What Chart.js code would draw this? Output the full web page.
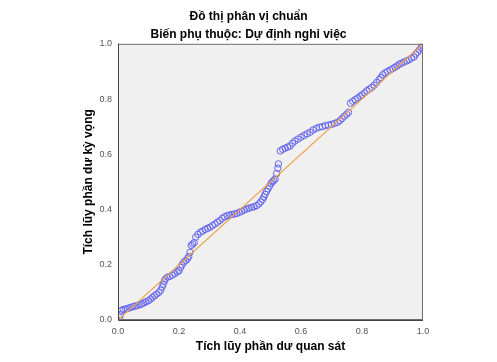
<!DOCTYPE html>
<html>
<head>
<meta charset="utf-8">
<script src="https://cdn.jsdelivr.net/npm/chart.js@4"></script>
<style>
  body { margin: 0; background: #ffffff; }
</style>
</head>
<body>
<canvas id="ppChart" width="497" height="362"></canvas>
<script>
// P-P plot: observed vs expected cumulative probability of residuals
var observedCum = [
    0.005, 0.008, 0.012, 0.018, 0.025, 0.032, 0.040, 0.048, 0.055, 0.062,
    0.070, 0.078, 0.085, 0.092, 0.100, 0.107, 0.113, 0.120, 0.127, 0.134,
    0.140, 0.145, 0.148, 0.152, 0.155, 0.162, 0.170, 0.178, 0.186, 0.194,
    0.200, 0.205, 0.210, 0.216, 0.222, 0.228, 0.232, 0.236, 0.240, 0.245,
    0.250, 0.255, 0.262, 0.270, 0.278, 0.286, 0.294, 0.302, 0.310, 0.318,
    0.326, 0.334, 0.342, 0.350, 0.358, 0.366, 0.374, 0.382, 0.390, 0.398,
    0.406, 0.414, 0.422, 0.430, 0.438, 0.446, 0.454, 0.462, 0.468, 0.474,
    0.478, 0.482, 0.487, 0.492, 0.497, 0.502, 0.506, 0.510, 0.515, 0.520,
    0.524, 0.526, 0.532, 0.540, 0.548, 0.556, 0.564, 0.572, 0.580, 0.590,
    0.600, 0.610, 0.620, 0.630, 0.640, 0.650, 0.660, 0.670, 0.680, 0.690,
    0.700, 0.710, 0.720, 0.728, 0.735, 0.742, 0.750, 0.756, 0.762, 0.770,
    0.778, 0.786, 0.794, 0.800, 0.808, 0.816, 0.824, 0.832, 0.840, 0.848,
    0.856, 0.862, 0.868, 0.876, 0.884, 0.892, 0.900, 0.908, 0.915, 0.922,
    0.930, 0.938, 0.946, 0.954, 0.962, 0.970, 0.976, 0.982, 0.988, 0.994,
    0.998
];
var expectedCum = [
    0.010, 0.020, 0.035, 0.038, 0.040, 0.042, 0.045, 0.048, 0.050, 0.052,
    0.055, 0.058, 0.062, 0.066, 0.070, 0.076, 0.082, 0.088, 0.094, 0.100,
    0.108, 0.120, 0.130, 0.140, 0.148, 0.155, 0.158, 0.162, 0.168, 0.174,
    0.178, 0.190, 0.200, 0.210, 0.215, 0.222, 0.230, 0.245, 0.270, 0.275,
    0.280, 0.300, 0.310, 0.318, 0.322, 0.328, 0.332, 0.336, 0.342, 0.348,
    0.354, 0.360, 0.368, 0.374, 0.378, 0.380, 0.382, 0.384, 0.386, 0.390,
    0.394, 0.398, 0.402, 0.405, 0.408, 0.410, 0.414, 0.420, 0.428, 0.436,
    0.445, 0.455, 0.465, 0.475, 0.485, 0.495, 0.500, 0.505, 0.510, 0.530,
    0.550, 0.565, 0.612, 0.618, 0.622, 0.626, 0.630, 0.640, 0.648, 0.655,
    0.662, 0.668, 0.674, 0.680, 0.688, 0.694, 0.698, 0.700, 0.704, 0.706,
    0.708, 0.712, 0.716, 0.722, 0.730, 0.738, 0.745, 0.752, 0.785, 0.792,
    0.798, 0.804, 0.810, 0.815, 0.822, 0.830, 0.836, 0.842, 0.850, 0.860,
    0.870, 0.878, 0.888, 0.895, 0.900, 0.905, 0.910, 0.915, 0.920, 0.926,
    0.930, 0.934, 0.938, 0.942, 0.948, 0.952, 0.962, 0.970, 0.978, 0.986,
    0.992
];
var refLineX = [0, 1];
var refLineY = [0, 1];
var tickLabels = ['0.0', '0.2', '0.4', '0.6', '0.8', '1.0'];

var points = observedCum.map(function (x, i) { return { x: x, y: expectedCum[i] }; });
var refLine = refLineX.map(function (x, i) { return { x: x, y: refLineY[i] }; });

// gray plot background + frame
var plotFrame = {
    id: 'plotFrame',
    beforeDatasetsDraw: function (chart) {
        var a = chart.chartArea, c = chart.ctx;
        c.save();
        c.fillStyle = '#f0f0f0';
        c.fillRect(a.left, a.top, a.right - a.left, a.bottom - a.top);
        c.restore();
    },
    afterDraw: function (chart) {
        var a = chart.chartArea, c = chart.ctx;
        c.save();
        c.strokeStyle = '#6e6e6e';
        c.lineWidth = 1;
        c.strokeRect(a.left + 0.5, a.top + 0.5, a.right - a.left - 1, a.bottom - a.top - 1);
        c.strokeStyle = '#444444';
        c.beginPath();
        c.moveTo(a.left + 0.5, a.top);
        c.lineTo(a.left + 0.5, a.bottom + 0.5);
        c.lineTo(a.right, a.bottom + 0.5);
        c.stroke();
        c.restore();
    }
};

var ctx = document.getElementById('ppChart').getContext('2d');
var ppChart = new Chart(ctx, {
    type: 'scatter',
    data: {
        datasets: [{
            type: 'line',
            data: refLine,
            borderColor: '#f0a04a',  // orange diagonal
            borderWidth: 1.2,
            pointRadius: 0,
            fill: false
        }, {
            data: points,
            pointStyle: 'circle',
            pointRadius: 3.2,
            borderColor: '#6464ee',  // hollow blue circles
            backgroundColor: 'rgba(0,0,0,0)',
            borderWidth: 1
        }]
    },
    options: {
        responsive: false,
        animation: false,
        layout: { padding: { left: 74, right: 74, top: 0, bottom: 0 } },
        font: { family: '"Liberation Sans", Arial, sans-serif' },
        plugins: {
            legend: { display: false },
            tooltip: { enabled: false },
            title: {
                display: true,
                text: 'Đồ thị phân vị chuẩn',
                color: '#000000',
                font: { size: 12, weight: 'bold', family: '"Liberation Sans", Arial, sans-serif' },
                padding: { top: 9, bottom: 2 }
            },
            subtitle: {
                display: true,
                text: 'Biến phụ thuộc: Dự định nghỉ việc',
                color: '#000000',
                font: { size: 12, weight: 'bold', family: '"Liberation Sans", Arial, sans-serif' },
                padding: { top: 2, bottom: 2 }
            }
        },
        scales: {
            x: {
                type: 'linear',
                min: 0,
                max: 1,
                afterFit: function (scale) { scale.height = 42; },
                grid: { display: false, drawTicks: true, tickLength: 5, tickColor: '#444444' },
                border: { display: false },
                ticks: {
                    stepSize: 0.2,
                    padding: 1,
                    color: '#555555',
                    font: { size: 9, family: '"Liberation Sans", Arial, sans-serif' },
                    maxRotation: 0,
                    callback: function (v, i) { return tickLabels[i]; }
                },
                title: {
                    display: true,
                    text: 'Tích lũy phần dư quan sát',
                    color: '#000000',
                    font: { size: 12, weight: 'bold', family: '"Liberation Sans", Arial, sans-serif' },
                    padding: { top: 4, bottom: 8 }
                }
            },
            y: {
                type: 'linear',
                min: 0,
                max: 1,
                afterFit: function (scale) { scale.width = 44; },
                grid: { display: false, drawTicks: true, tickLength: 5, tickColor: '#444444' },
                border: { display: false },
                ticks: {
                    stepSize: 0.2,
                    padding: 1,
                    color: '#555555',
                    font: { size: 9, family: '"Liberation Sans", Arial, sans-serif' },
                    callback: function (v, i) { return tickLabels[i]; }
                },
                title: {
                    display: true,
                    text: 'Tích lũy phần dư kỳ vọng',
                    color: '#000000',
                    font: { size: 12, weight: 'bold', family: '"Liberation Sans", Arial, sans-serif' },
                    padding: { top: 7, bottom: 4 }
                }
            }
        }
    },
    plugins: [plotFrame]
});
</script>
</body>
</html>
